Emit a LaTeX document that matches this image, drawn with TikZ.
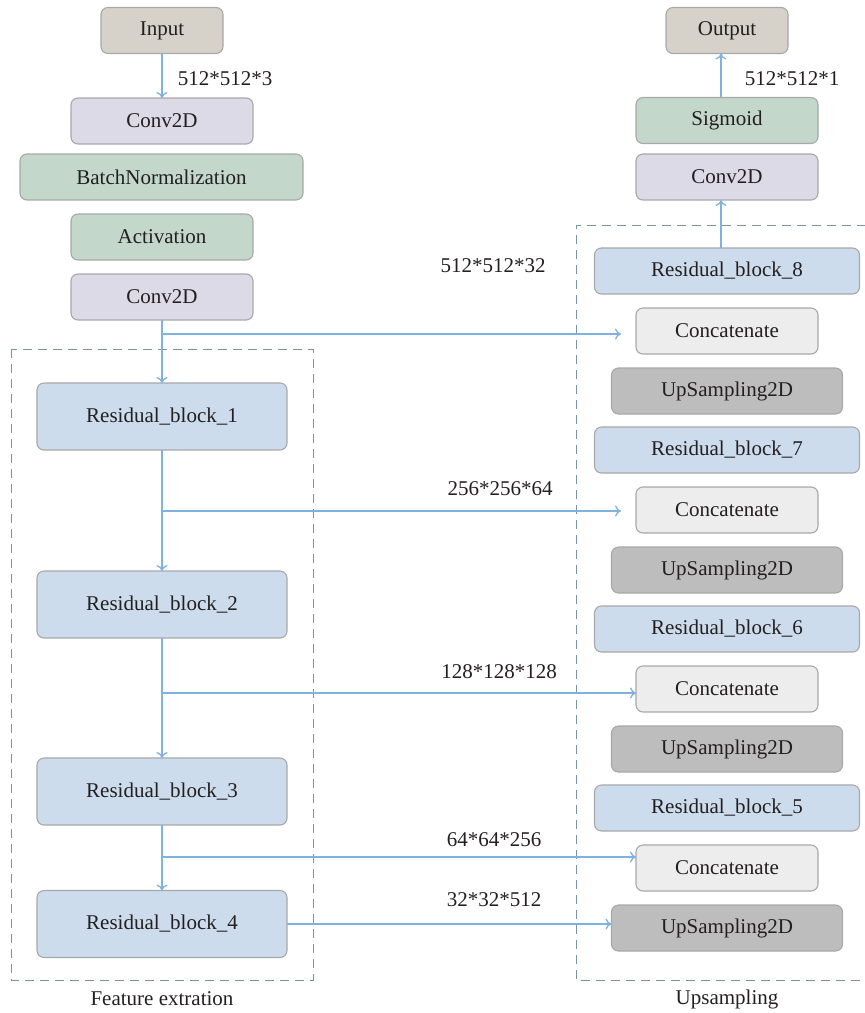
\documentclass[tikz,border=0pt]{standalone}
\usepackage{fontspec}
\setmainfont{Liberation Serif}
\usetikzlibrary{arrows.meta}
\definecolor{ioFill}{HTML}{D6D2CA}
\definecolor{convFill}{HTML}{DCDAE6}
\definecolor{actFill}{HTML}{C3D7CB}
\definecolor{resFill}{HTML}{CDDCEC}
\definecolor{catFill}{HTML}{EDEDED}
\definecolor{upFill}{HTML}{BDBDBD}
\definecolor{boxLine}{HTML}{A8A8A8}
\definecolor{arrowCol}{HTML}{7EB2E0}
\definecolor{groupCol}{HTML}{7893B0}
\definecolor{textCol}{HTML}{231F20}
\begin{document}
\begin{tikzpicture}[x=1pt,y=-1pt,
  blk/.style={draw=boxLine, line width=1.1pt, rounded corners=7pt,
    inner sep=0pt, outer sep=0pt, text=textCol,
    font=\fontsize{21}{25}\selectfont},
  io/.style={blk, fill=ioFill, minimum width=122pt, minimum height=46pt},
  conv/.style={blk, fill=convFill, minimum width=182pt, minimum height=46pt},
  act/.style={blk, fill=actFill, minimum width=182pt, minimum height=46pt},
  res/.style={blk, fill=resFill, minimum width=250pt, minimum height=67pt},
  resr/.style={blk, fill=resFill, minimum width=265pt, minimum height=46pt},
  cat/.style={blk, fill=catFill, minimum width=182pt, minimum height=46pt},
  up/.style={blk, fill=upFill, minimum width=231pt, minimum height=46pt},
  flow/.style={draw=arrowCol, line width=1.3pt, -{To[length=6pt,width=11pt]}},
  group/.style={draw=groupCol, line width=1pt, dash pattern=on 9pt off 6pt},
  lbl/.style={text=textCol, font=\fontsize{21}{25}\selectfont, inner sep=0pt}
]
\useasboundingbox (0,0) rectangle (865,1013);

% encoder stem
\node[io]   (in)  at (162,30.5) {Input};
\node[conv] (c1)  at (162,121)  {Conv2D};
\node[act, minimum width=283pt] (bn) at (161.5,177) {BatchNormalization};
\node[act]  (ac)  at (162,237)  {Activation};
\node[conv] (c2)  at (162,297)  {Conv2D};

% feature extraction blocks
\node[res] (r1) at (162,416.5) {Residual\_block\_1};
\node[res] (r2) at (162,604.5) {Residual\_block\_2};
\node[res] (r3) at (162,791.5) {Residual\_block\_3};
\node[res] (r4) at (162,924) {Residual\_block\_4};

% decoder head
\node[io]   (out) at (727,30.5) {Output};
\node[act]  (sg)  at (727,120.5) {Sigmoid};
\node[conv] (c3)  at (727,177)  {Conv2D};

% upsampling blocks
\node[resr] (r8)   at (727,271) {Residual\_block\_8};
\node[cat]  (cat1) at (727,331) {Concatenate};
\node[up]   (u1)   at (727,391) {UpSampling2D};
\node[resr] (r7)   at (727,450) {Residual\_block\_7};
\node[cat]  (cat2) at (727,510) {Concatenate};
\node[up]   (u2)   at (727,570) {UpSampling2D};
\node[resr] (r6)   at (727,629) {Residual\_block\_6};
\node[cat]  (cat3) at (727,689) {Concatenate};
\node[up]   (u3)   at (727,749) {UpSampling2D};
\node[resr] (r5)   at (727,808) {Residual\_block\_5};
\node[cat]  (cat4) at (727,868) {Concatenate};
\node[up]   (u4)   at (727,928) {UpSampling2D};

% group frames
\draw[group] (11,349) rectangle (313,980);
\draw[group] (866,225) -- (576,225) -- (576,980) -- (866,980);
\node[lbl] (gl) at (162,999) {Feature extration};
\node[lbl] (gr) at (727,999) {Upsampling};

% main path
\draw[flow] (in.south) -- (c1.north);
\draw[flow] (c2.south) -- (r1.north);
\draw[flow] (r1.south) -- (r2.north);
\draw[flow] (r2.south) -- (r3.north);
\draw[flow] (r3.south) -- (r4.north);

% skip connections
\coordinate (b0) at (162,334);
\coordinate (b1) at (162,511);
\coordinate (b2) at (162,693);
\coordinate (b3) at (162,857);
\draw[flow, shorten >=15pt] (b0) -- (cat1.west |- b0);
\draw[flow, shorten >=15pt] (b1) -- (cat2.west |- b1);
\draw[flow] (b2) -- (cat3.west |- b2);
\draw[flow] (b3) -- (cat4.west |- b3);
\draw[flow] (r4.east) -- (u4.west |- r4.east);

% decoder output path
\coordinate (t0) at (721,248);
\coordinate (t1) at (721,97);
\draw[flow] (t0) -- (c3.south -| t0);
\draw[flow] (t1) -- (out.south -| t1);

% tensor shapes
\node[lbl] (s1) at (225,79)  {512*512*3};
\node[lbl] (s2) at (792,79)  {512*512*1};
\node[lbl] (s3) at (493,266) {512*512*32};
\node[lbl] (s4) at (500,489) {256*256*64};
\node[lbl] (s5) at (499,672) {128*128*128};
\node[lbl] (s6) at (494,840) {64*64*256};
\node[lbl] (s7) at (494,900) {32*32*512};
\end{tikzpicture}
\end{document}
